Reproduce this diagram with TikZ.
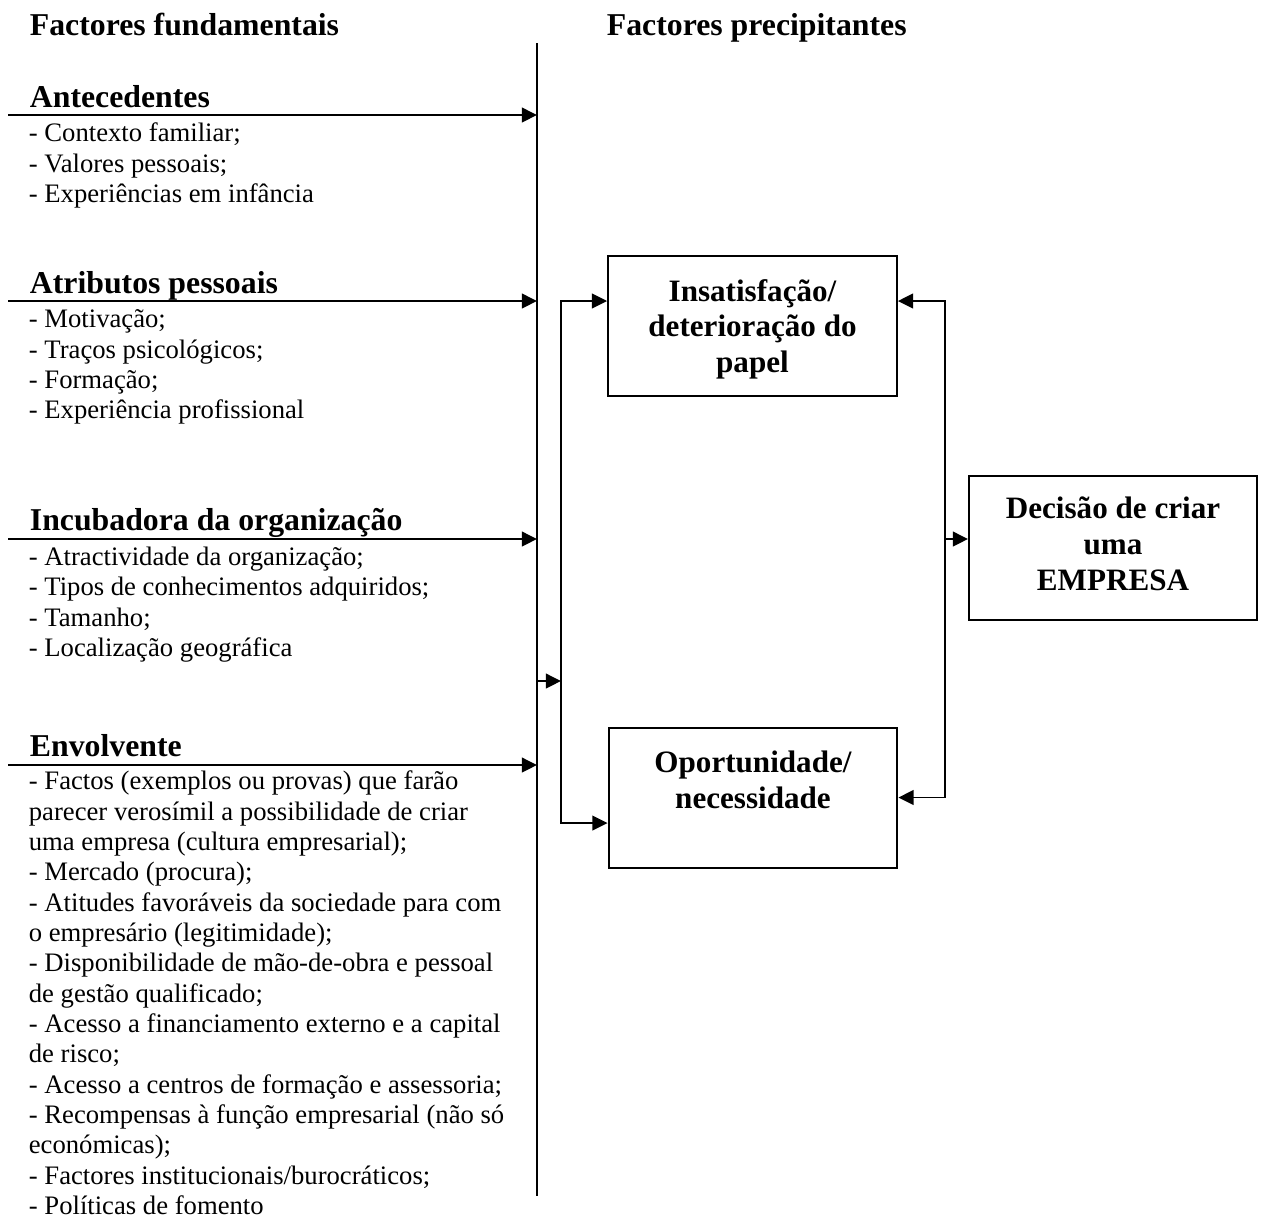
\documentclass[tikz,border=0pt]{standalone}
\usepackage{fontspec}
\setmainfont{Liberation Serif}
\usetikzlibrary{arrows.meta, positioning}

\begin{document}
\begin{tikzpicture}[x=0.45pt, y=-0.45pt, line width=0.8pt,
    arr/.style={-{Triangle[length=6.8pt, width=6.6pt]}},
    arrs/.style={{Triangle[length=6.8pt, width=6.6pt]}-{Triangle[length=6.8pt, width=6.6pt]}},
    head/.style={anchor=base west, inner sep=0pt, font=\fontsize{14.3}{16.4}\selectfont\bfseries},
    items/.style={anchor=north west, inner sep=0pt, align=left, font=\fontsize{12}{13.65}\selectfont},
    box/.style={draw, line width=0.9pt, align=center, minimum width=130pt, minimum height=63pt, font=\fontsize{14}{16.1}\selectfont\bfseries}]
    \useasboundingbox (0,0) rectangle (1265,1218);

    % titles
    \node[head] (fund) at (29,35) {Factores fundamentais};
    \node[head] (prec) at (606,35) {Factores precipitantes};

    % fundamental factors
    \node[head] (ante) at (29,107) {Antecedentes};
    \node[items] (antelist) at (28,122) {- Contexto familiar;\\- Valores pessoais;\\- Experiências em infância};
    \node[head] (atri) at (29,293) {Atributos pessoais};
    \node[items] (atrilist) at (28,309) {- Motivação;\\- Traços psicológicos;\\- Formação;\\- Experiência profissional};
    \node[head] (incu) at (29,530) {Incubadora da organização};
    \node[items] (inculist) at (28,546) {- Atractividade da organização;\\- Tipos de conhecimentos adquiridos;\\- Tamanho;\\- Localização geográfica};
    \node[head] (envo) at (29,756) {Envolvente};
    \node[items] (envolist) at (28,770) {- Factos (exemplos ou provas) que farão\\parecer verosímil a possibilidade de criar\\uma empresa (cultura empresarial);\\- Mercado (procura);\\- Atitudes favoráveis da sociedade para com\\o empresário (legitimidade);\\- Disponibilidade de mão-de-obra e pessoal\\de gestão qualificado;\\- Acesso a financiamento externo e a capital\\de risco;\\- Acesso a centros de formação e assessoria;\\- Recompensas à função empresarial (não só\\económicas);\\- Factores institucionais/burocráticos;\\- Políticas de fomento};

    % precipitating factors
    \node[box, text depth=0pt] (insat) at (752.5,326) {Insatisfação/\\deterioração do\\papel};
    \node[box] (oport) at (753,797.5) {Oportunidade/\\necessidade\\~};
    \node[box, minimum width=129.6pt, minimum height=64.8pt, text depth=4pt] (decide) at (1113,548) {Decisão de criar\\uma\\EMPRESA};

    % connectors
    \coordinate (trunktop) at (537,43);
    \coordinate (trunkbot) at (537,1196);
    \coordinate (ante-in) at (8,115);
    \coordinate (atri-in) at (8,301);
    \coordinate (incu-in) at (8,539);
    \coordinate (envo-in) at (8,765);
    \coordinate (merge) at (537,681);
    \coordinate (split) at (561,681);
    \coordinate (busR) at (945,539);

    \draw[line width=0.9pt] (trunktop) -- (trunkbot);
    \foreach \src in {ante-in, atri-in, incu-in, envo-in}
        \draw[arr] (\src) -- (\src -| trunktop);
    \draw[arr] (merge) -- (split);
    \draw[arr] (split) |- (insat.west |- atri-in);
    \draw[arr] (split) |- ([yshift=-11.5pt]oport.west);
    \draw[arrs] (insat.east |- atri-in) -| (busR) |- (oport.east);
    \draw[arr] (busR) -- (decide.west |- busR);
\end{tikzpicture}
\end{document}
